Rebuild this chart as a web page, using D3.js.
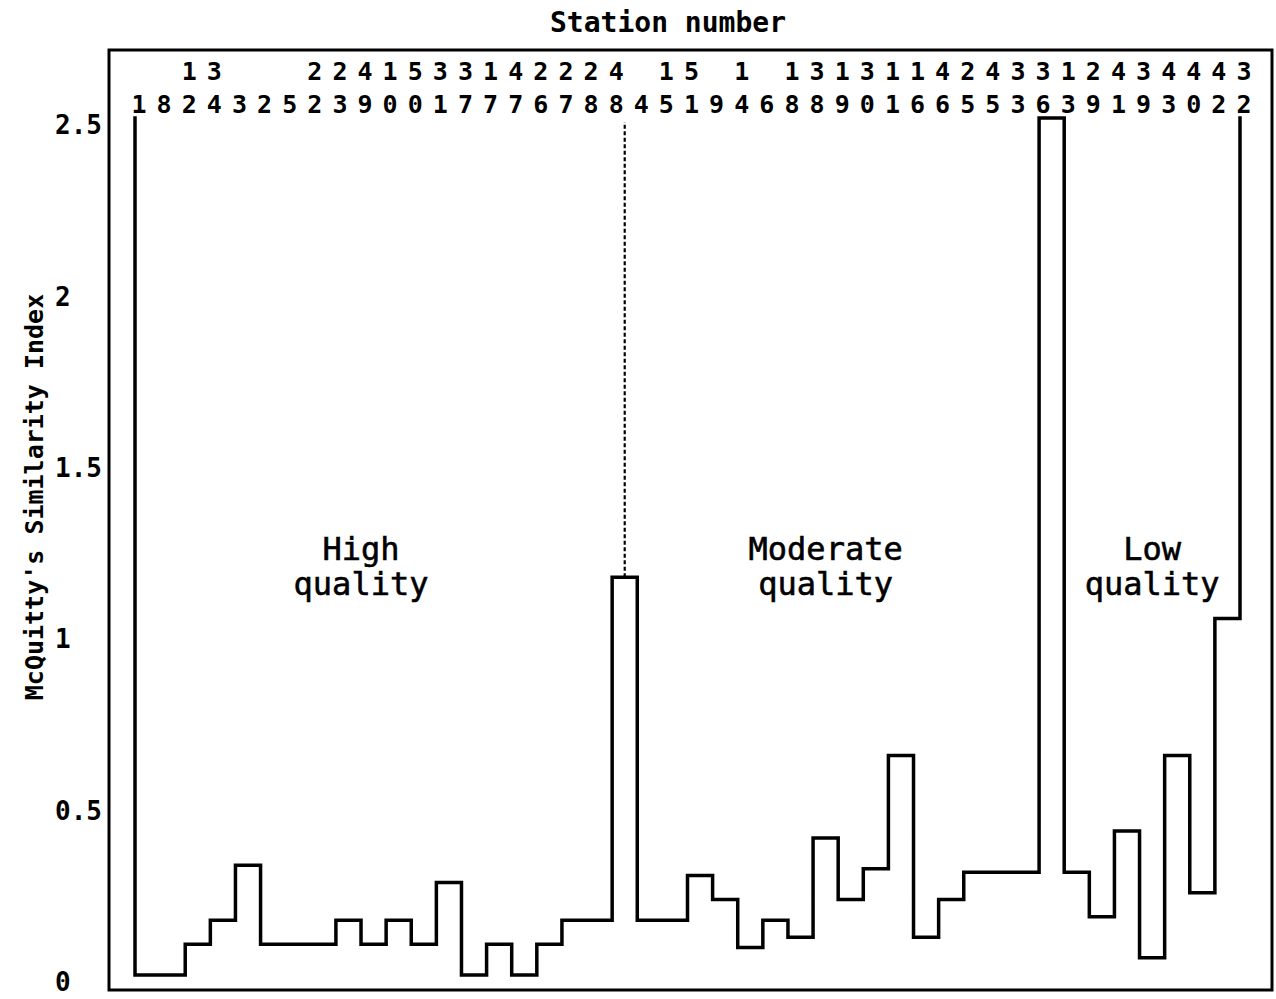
<!DOCTYPE html>
<html>
<head>
<meta charset="utf-8">
<script src="https://cdn.jsdelivr.net/npm/d3@7"></script>
<style>
  html, body { margin: 0; padding: 0; background: #fff; }
  svg { display: block; }
</style>
</head>
<body>
<svg id="chart" width="1276" height="999"></svg>
<script>
// Station order along the horizontal axis
const stations = [1, 8, 12, 34, 3, 2, 5, 22, 23, 49, 10, 50, 31, 37, 17, 47, 26, 27, 28, 48,
                  4, 15, 51, 9, 14, 6, 18, 38, 19, 30, 11, 16, 46, 25, 45, 33, 36, 13, 29, 41,
                  39, 43, 40, 42, 32];

// McQuitty similarity level between each station and the next one
const levels = [0.00, 0.00, 0.09, 0.16, 0.32, 0.09, 0.09, 0.09, 0.16, 0.09,
                0.16, 0.09, 0.27, 0.00, 0.09, 0.00, 0.09, 0.16, 0.16, 1.16,
                0.16, 0.16, 0.29, 0.22, 0.08, 0.16, 0.11, 0.40, 0.22, 0.31,
                0.64, 0.11, 0.22, 0.30, 0.30, 0.30, 2.50, 0.30, 0.17, 0.42,
                0.05, 0.64, 0.24, 1.04];

const yTicks = [0, 0.5, 1, 1.5, 2, 2.5];
const yTickLabels = ["0", "0.5", "1", "1.5", "2", "2.5"];

// Quality groups (label lines, and the pair of stations the label is centred between)
const groupNames = [["High", "quality"], ["Moderate", "quality"], ["Low", "quality"]];
const groupCenters = [[9, 9], [27, 28], [40, 41]];
// Boundary between high and moderate groups lies in segment index 19
const dividerSegment = 19;

const svg = d3.select("#chart");
const mono = "'DejaVu Sans Mono', 'Liberation Mono', monospace";

const x = d3.scalePoint().domain(stations).range([135, 1240]);
const y = d3.scaleLinear().domain([0, 2.5]).range([975, 118]);

// Frame
svg.append("rect")
  .attr("x", 109).attr("y", 50)
  .attr("width", 1163).attr("height", 940)
  .attr("fill", "none").attr("stroke", "#000").attr("stroke-width", 3);

// Title
svg.append("text")
  .attr("x", 668).attr("y", 32)
  .attr("text-anchor", "middle")
  .attr("font-family", mono).attr("font-weight", "bold").attr("font-size", 28)
  .text("Station number");

// Y-axis label
svg.append("text")
  .attr("transform", "translate(43,497) rotate(-90)")
  .attr("text-anchor", "middle")
  .attr("font-family", mono).attr("font-weight", "bold").attr("font-size", 25)
  .text("McQuitty's Similarity Index");

// Y axis (labels only)
const yAxis = d3.axisLeft(y)
  .tickValues(yTicks)
  .tickSize(0)
  .tickFormat((d, i) => yTickLabels[i]);
const gy = svg.append("g").attr("transform", "translate(109,0)").call(yAxis);
gy.select(".domain").remove();
gy.selectAll("text")
  .attr("x", -54).attr("dy", "0.6em")
  .attr("text-anchor", "start")
  .attr("font-family", mono).attr("font-weight", "bold").attr("font-size", 26)
  .attr("fill", "#000");

// Station labels: tens digit on the upper row, units digit on the lower row
const labels = svg.append("g")
  .attr("font-family", mono).attr("font-weight", "bold").attr("font-size", 25)
  .attr("text-anchor", "middle");
labels.selectAll("text.units").data(stations).join("text")
  .attr("class", "units")
  .attr("x", d => x(d) + 4).attr("y", 113)
  .text(d => d % 10);
labels.selectAll("text.tens").data(stations.filter(d => d >= 10)).join("text")
  .attr("class", "tens")
  .attr("x", d => x(d) + 4).attr("y", 80)
  .text(d => Math.floor(d / 10));

// Step profile
const pts = [[x(stations[0]), y(2.5)]];
levels.forEach((v, i) => pts.push([x(stations[i]), y(v)]));
pts.push([x(stations[stations.length - 1]), y(levels[levels.length - 1])]);
pts.push([x(stations[stations.length - 1]), y(2.5)]);
svg.append("path")
  .attr("d", d3.line().curve(d3.curveStepAfter)(pts))
  .attr("fill", "none").attr("stroke", "#000")
  .attr("stroke-width", 3.5)
  .attr("stroke-linejoin", "miter").attr("stroke-linecap", "square");

// Dotted divider between high and moderate quality
const dx = (x(stations[dividerSegment]) + x(stations[dividerSegment + 1])) / 2;
svg.append("line")
  .attr("x1", dx).attr("x2", dx)
  .attr("y1", y(levels[dividerSegment])).attr("y2", y(2.5) + 4)
  .attr("stroke", "#000").attr("stroke-width", 2.2)
  .attr("stroke-dasharray", "4,2.5");

// Group labels
groupNames.forEach((lines, i) => {
  const [a, b] = groupCenters[i];
  const cx = (x(stations[a]) + x(stations[b])) / 2;
  const t = svg.append("text")
    .attr("text-anchor", "middle")
    .attr("font-family", mono).attr("font-size", 32)
    .attr("stroke", "#000").attr("stroke-width", 0.6);
  lines.forEach((ln, j) => {
    t.append("tspan").attr("x", cx).attr("y", 560 + j * 35).text(ln);
  });
});
</script>
</body>
</html>
